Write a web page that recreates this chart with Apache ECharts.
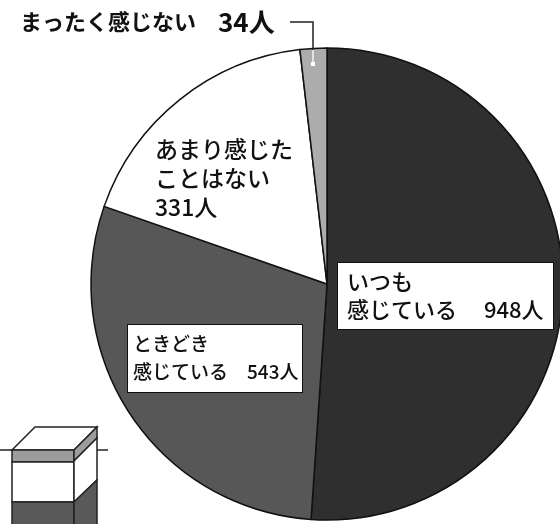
<!DOCTYPE html>
<html><head><meta charset="utf-8">
<script src="https://cdn.jsdelivr.net/npm/echarts@6/dist/echarts.min.js"></script>
<style>html,body{margin:0;padding:0;background:#fff}#c{width:560px;height:524px}</style>
</head><body><div id="c"></div>
<script>
// Data
const categories = ['いつも感じている', 'ときどき感じている', 'あまり感じたことはない', 'まったく感じない'];
const values = [948, 543, 331, 34];
const labelTemplates = ['いつも\n感じている　 {n|{v}人}', 'ときどき\n感じている　{n|{v}人}', 'あまり感じた\nことはない\n{n|{v}人}', 'まったく感じない　{n|{v}人}'];

// Styles
const sliceColors = ['#2f2f2f', '#575757', '#ffffff', '#acacac'];
const FONT = '"Noto Sans CJK JP", "Noto Sans", sans-serif';
const labelStyles = [
  { fontSize: 22, lineHeight: 28, backgroundColor: '#fff', borderColor: '#111', borderWidth: 1, padding: [5, 6, 5, 9], width: 200,
    rich: { n: { fontSize: 22, lineHeight: 28, fontFamily: FONT, fontWeight: 500, color: '#111' } } },
  { fontSize: 19, lineHeight: 28, backgroundColor: '#fff', borderColor: '#111', borderWidth: 1, padding: [5, 5, 6, 5], width: 164,
    rich: { n: { fontSize: 19, lineHeight: 28, fontFamily: FONT, fontWeight: 500, color: '#111' } } },
  { fontSize: 23, lineHeight: 29,
    rich: { n: { fontSize: 23, lineHeight: 29, fontFamily: FONT, fontWeight: 500, color: '#111' } } },
  { fontSize: 22, lineHeight: 26, fontWeight: 'bold',
    rich: { n: { fontSize: 26, lineHeight: 26, fontFamily: FONT, fontWeight: 'bold', color: '#111' } } }
];
const labelPos = [[338, 263], [128, 325], [155, 135], [20, 9]];

const chart = echarts.init(document.getElementById('c'), null, { renderer: 'canvas' });
chart.setOption({
  animation: false,
  backgroundColor: '#fff',
  series: [{
    type: 'pie',
    center: [327, 284],
    radius: 236,
    startAngle: 90,
    clockwise: true,
    avoidLabelOverlap: false,
    silent: true,
    itemStyle: { borderColor: '#111', borderWidth: 1.5 },
    label: {
      show: true,
      position: 'inside',
      color: '#111',
      fontFamily: FONT,
      fontWeight: 500,
      overflow: 'none',
      align: 'left',
      verticalAlign: 'top',
      formatter: p => labelTemplates[p.dataIndex].replace('{v}', p.value)
    },
    labelLine: { show: false },
    labelLayout: p => ({ x: labelPos[p.dataIndex][0], y: labelPos[p.dataIndex][1], align: 'left', verticalAlign: 'top' }),
    emphasis: { disabled: true },
    data: categories.map((name, i) => ({
      name,
      value: values[i],
      itemStyle: { color: sliceColors[i] },
      label: Object.assign({ fontFamily: FONT, color: '#111', fontWeight: 500, overflow: 'none' }, labelStyles[i])
    }))
  }],
  graphic: [
    // leader line for the small slice label
    { type: 'polyline', z: 100, shape: { points: [[290, 22], [313, 22], [313, 50]] }, style: { stroke: '#222', lineWidth: 1.5, fill: null } },
    { type: 'polyline', z: 100, shape: { points: [[313, 50], [313, 64]] }, style: { stroke: '#f4f4f4', lineWidth: 1.5, fill: null } },
    { type: 'rect', z: 100, shape: { x: 311, y: 62, width: 4, height: 4 }, style: { fill: '#fff' } },
    // fragment of neighbouring figure (bottom left)
    { type: 'polyline', z: 10, shape: { points: [[0, 450], [108, 450]] }, style: { stroke: '#222', lineWidth: 1.5, fill: null } },
    { type: 'polygon', z: 11, shape: { points: [[12, 450], [74, 450], [97, 427], [35, 427]] }, style: { fill: '#fff', stroke: '#222', lineWidth: 1.5 } },
    { type: 'rect', z: 11, shape: { x: 12, y: 450, width: 62, height: 12 }, style: { fill: '#9c9c9c', stroke: '#222', lineWidth: 1.5 } },
    { type: 'rect', z: 11, shape: { x: 12, y: 462, width: 62, height: 40 }, style: { fill: '#fff', stroke: '#222', lineWidth: 1.5 } },
    { type: 'rect', z: 11, shape: { x: 12, y: 502, width: 62, height: 30 }, style: { fill: '#595959', stroke: '#222', lineWidth: 1.5 } },
    { type: 'polygon', z: 11, shape: { points: [[74, 450], [97, 427], [97, 438], [74, 461]] }, style: { fill: '#9c9c9c', stroke: '#222', lineWidth: 1.5 } },
    { type: 'polygon', z: 11, shape: { points: [[74, 461], [97, 438], [97, 480], [74, 502]] }, style: { fill: '#fff', stroke: '#222', lineWidth: 1.5 } },
    { type: 'polygon', z: 11, shape: { points: [[74, 502], [97, 480], [97, 530], [74, 530]] }, style: { fill: '#595959', stroke: '#222', lineWidth: 1.5 } }
  ]
});
</script>
</body></html>
